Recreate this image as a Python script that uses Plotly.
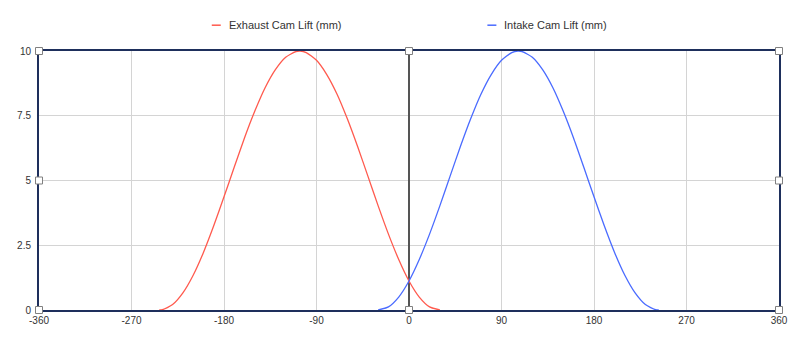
import plotly.graph_objects as go

# ---- data ----
exhaust_x = [-243, -240, -230, -220, -210, -200, -190, -180, -170, -160, -150, -140, -130, -120, -110, -106,
             -100, -90, -80, -70, -60, -50, -40, -30, -20, -10, 0, 10, 20, 30]
exhaust_y = [0.0, 0.01, 0.21, 0.66, 1.34, 2.22, 3.25, 4.37, 5.52, 6.65, 7.68, 8.58, 9.28, 9.76, 9.98, 10.0,
             9.94, 9.64, 9.09, 8.33, 7.38, 6.31, 5.17, 4.02, 2.93, 1.95, 1.12, 0.50, 0.12, 0.0]

intake_x = [-30, -20, -10, 0, 10, 20, 30, 40, 50, 60, 70, 80, 90, 100, 106,
            110, 120, 130, 140, 150, 160, 170, 180, 190, 200, 210, 220, 230, 240, 243]
intake_y = [0.0, 0.12, 0.50, 1.12, 1.95, 2.93, 4.02, 5.17, 6.31, 7.38, 8.33, 9.09, 9.64, 9.94, 10.0,
            9.98, 9.76, 9.28, 8.58, 7.68, 6.65, 5.52, 4.37, 3.25, 2.22, 1.34, 0.66, 0.21, 0.01, 0.0]

series_names = ["Exhaust Cam Lift (mm)", "Intake Cam Lift (mm)"]
series_colors = ["#ff5a4e", "#4a6bff"]

x_ticks = [-360, -270, -180, -90, 0, 90, 180, 270, 360]
y_ticks = [0, 2.5, 5, 7.5, 10]
y_tick_text = ["0", "2.5", "5", "7.5", "10"]

handle_x = [-360, -360, -360, 0, 0, 360, 360, 360]
handle_y = [0, 5, 10, 10, 0, 10, 5, 0]

# ---- figure ----
W, H = 800, 338
L, R, T, B = 39, 20, 51, 26
pw, ph = W - L - R, H - T - B

fig = go.Figure()
fig.add_trace(go.Scatter(x=exhaust_x, y=exhaust_y, mode="lines", name=series_names[0],
                         line=dict(color=series_colors[0], width=1.3, shape="spline", smoothing=0.6),
                         showlegend=False, cliponaxis=True))
fig.add_trace(go.Scatter(x=intake_x, y=intake_y, mode="lines", name=series_names[1],
                         line=dict(color=series_colors[1], width=1.3, shape="spline", smoothing=0.6),
                         showlegend=False, cliponaxis=True))
fig.add_trace(go.Scatter(x=handle_x, y=handle_y, mode="markers", showlegend=False, hoverinfo="skip",
                         marker=dict(symbol="square", size=7, color="white",
                                     line=dict(color="#808080", width=1)),
                         cliponaxis=False))

# manual legend (short dash + label)
def px_x(p):
    return (p - L) / pw

def px_y(p):
    return (H - B - p) / ph

legend_items = [(212, 227), (488, 503)]
for (dash_x, text_x), name, color in zip(legend_items, series_names, series_colors):
    fig.add_shape(type="line", xref="paper", yref="paper",
                  x0=px_x(dash_x), x1=px_x(dash_x + 9), y0=px_y(25), y1=px_y(25),
                  line=dict(color=color, width=1.5))
    fig.add_annotation(xref="paper", yref="paper", x=px_x(text_x), y=px_y(25),
                       xanchor="left", yanchor="middle", text=name, showarrow=False,
                       font=dict(size=11, color="#333333"))

fig.update_layout(
    width=W, height=H,
    margin=dict(l=L, r=R, t=T, b=B),
    paper_bgcolor="white", plot_bgcolor="white",
    font=dict(family="Liberation Sans, Arial, Helvetica, sans-serif", size=10, color="#333333"),
    showlegend=False,
)
fig.update_xaxes(range=[-360, 360], tickvals=x_ticks, ticktext=[str(v) for v in x_ticks],
                 showgrid=True, gridcolor="#d4d4d4", gridwidth=1,
                 zeroline=True, zerolinecolor="#555555", zerolinewidth=1.5,
                 showline=True, linecolor="#1e2f5c", linewidth=2, mirror=True,
                 layer="below traces",
                 ticks="", tickfont=dict(size=10, color="#333333"), fixedrange=True)
fig.update_yaxes(range=[0, 10], tickvals=y_ticks, ticktext=y_tick_text,
                 showgrid=True, gridcolor="#d4d4d4", gridwidth=1,
                 zeroline=False,
                 showline=True, linecolor="#1e2f5c", linewidth=2, mirror=True,
                 layer="below traces",
                 ticks="outside", ticklen=4, tickcolor="rgba(0,0,0,0)",
                 tickfont=dict(size=10, color="#333333"), fixedrange=True)

fig.write_html("out.html")
